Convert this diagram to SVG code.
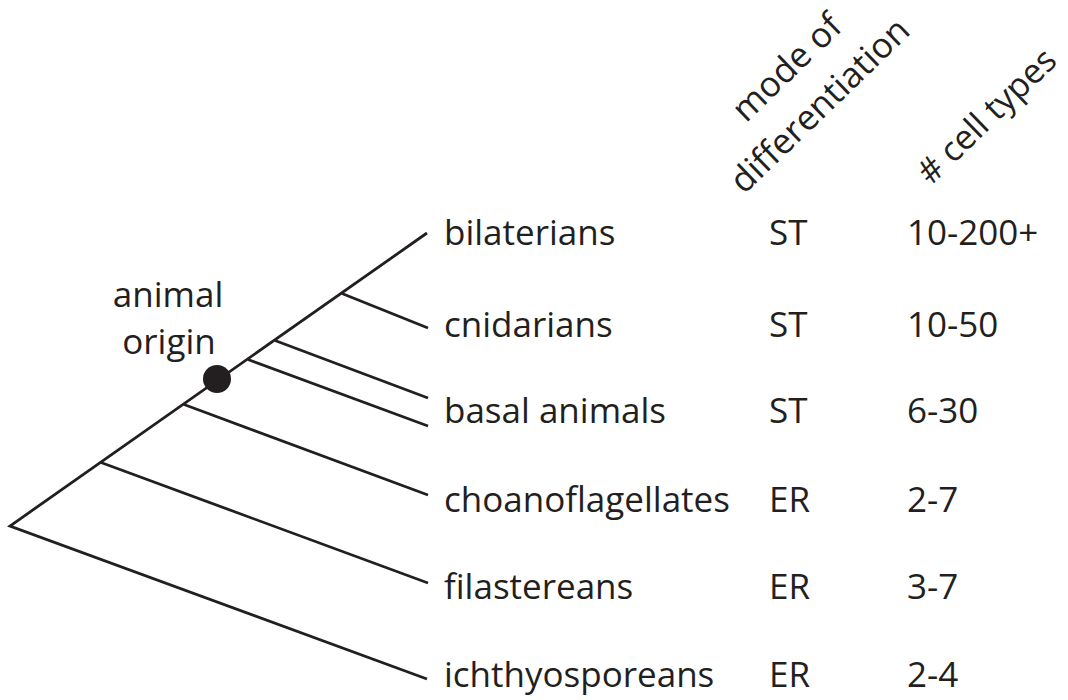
<svg xmlns="http://www.w3.org/2000/svg" width="1068" height="700" viewBox="0 0 1068 700">
<style>
.t{font-family:"Open Sans","Liberation Sans",sans-serif;font-size:35px;fill:#231f20}
.br{stroke:#231f20;stroke-width:2.8;fill:none;stroke-linecap:butt}
</style>
<rect width="1068" height="700" fill="#fff"/>
<g id="connectors">
<polyline class="br" points="427,233 10,526 427,679"/>
<line class="br" x1="342" y1="293.5" x2="428" y2="328"/>
<line class="br" x1="275" y1="340.5" x2="428" y2="398"/>
<line class="br" x1="248" y1="359.5" x2="428" y2="426"/>
<line class="br" x1="184" y1="404.5" x2="428" y2="495"/>
<line class="br" x1="101" y1="462.5" x2="428" y2="583"/>
</g>
<g id="animal-origin">
<circle cx="217" cy="379" r="14" fill="#231f20"/>
<text class="t" text-anchor="middle" x="168" y="307">animal</text>
<text class="t" text-anchor="middle" x="169" y="354">origin</text>
</g>
<g id="header-mode">
<text class="t" transform="translate(744,195) rotate(-44)"><tspan x="51" y="-50">mode of</tspan><tspan x="0" y="0">differentiation</tspan></text>
</g>
<g id="header-cells">
<text class="t" style="font-size:34px" transform="translate(931,186) rotate(-44)">#&#160;cell types</text>
</g>
<g id="row-bilaterians">
<text class="t" x="444" y="245">bilaterians</text>
<text class="t" x="769" y="245">ST</text>
<text class="t" x="907" y="245">10-200+</text>
</g>
<g id="row-cnidarians">
<text class="t" x="444" y="337">cnidarians</text>
<text class="t" x="769" y="337">ST</text>
<text class="t" x="907" y="337">10-50</text>
</g>
<g id="row-basal">
<text class="t" x="444" y="423">basal animals</text>
<text class="t" x="769" y="423">ST</text>
<text class="t" x="907" y="423">6-30</text>
</g>
<g id="row-choano">
<text class="t" x="444" y="512">choanoflagellates</text>
<text class="t" x="769" y="512">ER</text>
<text class="t" x="907" y="512">2-7</text>
</g>
<g id="row-filastereans">
<text class="t" x="444" y="599">filastereans</text>
<text class="t" x="769" y="599">ER</text>
<text class="t" x="907" y="599">3-7</text>
</g>
<g id="row-ichthyo">
<text class="t" x="444" y="687">ichthyosporeans</text>
<text class="t" x="769" y="687">ER</text>
<text class="t" x="907" y="687">2-4</text>
</g>
</svg>
